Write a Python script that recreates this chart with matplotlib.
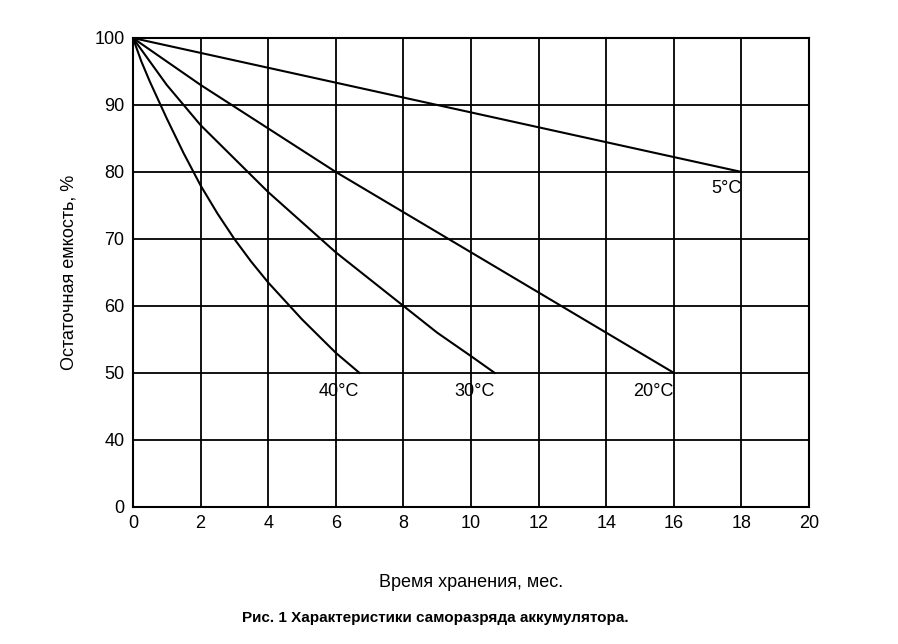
import matplotlib.pyplot as plt

plt.rcParams['font.family'] = ['Liberation Sans', 'DejaVu Sans']

# data (time in months, capacity in %)
t5 = [0, 18]
c5 = [100, 80]
t20 = [0, 2, 4, 6, 8, 10, 12, 14, 16]
c20 = [100, 93, 86.5, 80, 74, 68, 62, 56, 50]
t30 = [0, 0.5, 1, 2, 3, 4, 5, 6, 7, 8, 9, 10, 10.7]
c30 = [100, 96.5, 93, 87, 82, 77, 72.5, 68, 64, 60, 56, 52.5, 50]
t40 = [0, 0.25, 0.5, 1, 1.5, 2, 2.5, 3, 3.5, 4, 5, 6, 6.7]
c40 = [100, 96.5, 93.5, 88, 82.8, 78, 73.8, 70, 66.6, 63.5, 58, 53, 50]
ytick_labels = ['0', '40', '50', '60', '70', '80', '90', '100']


def pos(values):
    # the axis is broken: the bottom line stands for 0, then 40..100
    return [(v - 30) / 10 for v in values]


fig = plt.figure(figsize=(8.98, 6.44), dpi=100)
ax = fig.add_axes([0.148, 0.213, 0.753, 0.728])

for t, c in [(t5, c5), (t20, c20), (t30, c30), (t40, c40)]:
    ax.plot(t, pos(c), color='black', lw=1.5)

ax.set_xlim(0, 20)
ax.set_ylim(0, 7)
ax.set_xticks(range(0, 21, 2))
ax.set_yticks(range(8))
ax.set_yticklabels(ytick_labels)
ax.tick_params(labelsize=13, length=0, pad=6)
ax.grid(True, color='black', lw=1.3)
for s in ax.spines.values():
    s.set_linewidth(1.5)

ax.text(18, pos([80])[0] - 0.25, '5°C', ha='right', va='center', fontsize=13)
ax.text(16, pos([50])[0] - 0.28, '20°C', ha='right', va='center', fontsize=13)
ax.text(10.7, pos([50])[0] - 0.28, '30°C', ha='right', va='center', fontsize=13)
ax.text(6.7, pos([50])[0] - 0.28, '40°C', ha='right', va='center', fontsize=13)

ax.set_xlabel('Время хранения, мес.', fontsize=13, labelpad=30)
ax.set_ylabel('Остаточная емкость, %', fontsize=13, labelpad=12)

fig.text(0.485, 0.034, 'Рис. 1 Характеристики саморазряда аккумулятора.',
         ha='center', fontsize=11, fontweight='bold')

fig.savefig('out.png')
